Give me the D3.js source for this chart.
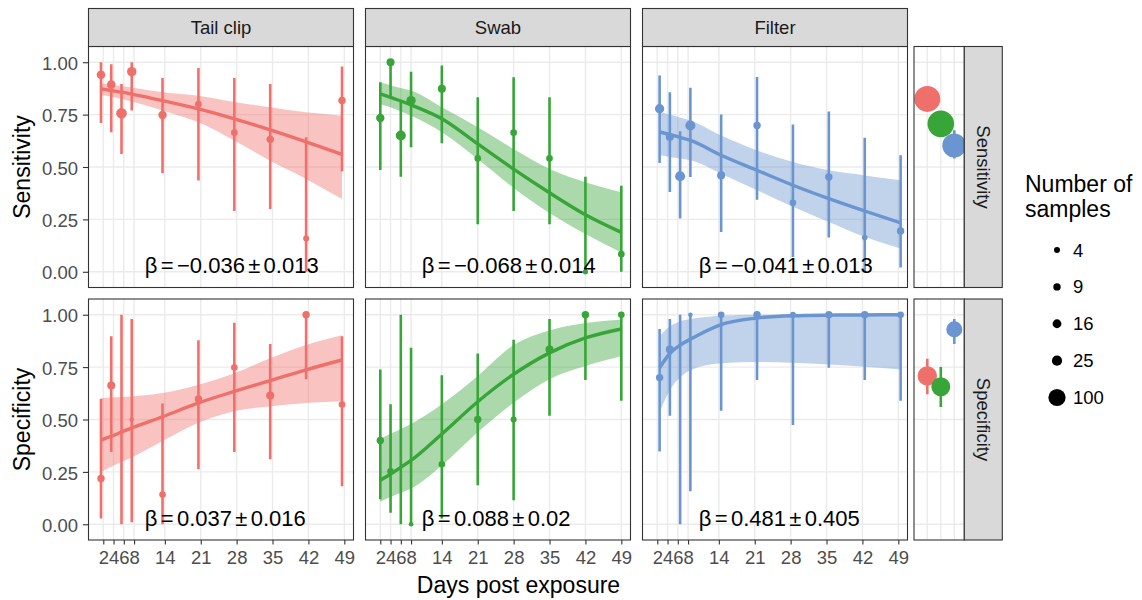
<!DOCTYPE html>
<html><head><meta charset="utf-8">
<script src="https://cdn.jsdelivr.net/npm/d3@7"></script>
<style>
body{margin:0;background:#fff}
svg{display:block}
text{font-family:"Liberation Sans",Arial,Helvetica,sans-serif}
</style>
</head><body><svg id="c" width="1142" height="600"></svg>
<script>
// ---------------- DATA ----------------
const methods = ["Tail clip", "Swab", "Filter"];
const measures = ["Sensitivity", "Specificity"];
const colors = ["#EF706A", "#37A537", "#6A95D0"];
const days = [2, 4, 6, 8, 14, 21, 28, 35, 42, 49];
const xTicks = [2, 4, 6, 8, 14, 21, 28, 35, 42, 49];
const yTicks = [0, 0.25, 0.5, 0.75, 1];
const sizeBreaks = [4, 9, 16, 25, 100];
const betaLabels = [
  "β = −0.036 ± 0.013", "β = −0.068 ± 0.014", "β = −0.041 ± 0.013",
  "β = 0.037 ± 0.016", "β = 0.088 ± 0.02", "β = 0.481 ± 0.405"
];

// Sensitivity — observed proportions, 95% interval, number of samples
const tailSens   = [0.94, 0.893, 0.756, 0.955, 0.748, 0.80, 0.664, 0.632, 0.159, 0.817];
const tailSensLo = [0.71, 0.666, 0.562, 0.77, 0.47, 0.435, 0.29, 0.30, 0.0, 0.478];
const tailSensHi = [1.0, 0.99, 0.896, 1.0, 0.925, 0.973, 0.925, 0.896, 0.642, 0.98];
const tailSensN  = [15, 15, 28, 20, 14, 6, 6, 9, 4, 9];

const swabSens   = [0.734, 1.0, 0.65, 0.817, 0.873, 0.541, 0.664, 0.541, 0.0, 0.084];
const swabSensLo = [0.486, 0.83, 0.454, 0.594, 0.613, 0.227, 0.29, 0.227, 0.0, 0.0];
const swabSensHi = [0.904, 1.0, 0.817, 0.955, 0.984, 0.833, 0.928, 0.833, 0.454, 0.41];
const swabSensN  = [14, 12, 24, 19, 12, 6, 6, 6, 2, 6];

const filterSens   = [0.778, 0.643, 0.456, 0.698, 0.46, 0.698, 0.329, 0.452, 0.163, 0.195];
const filterSensLo = [0.519, 0.381, 0.254, 0.452, 0.19, 0.344, 0.07, 0.163, 0.0, 0.02];
const filterSensHi = [0.937, 0.857, 0.67, 0.878, 0.75, 0.93, 0.703, 0.765, 0.64, 0.556];
const filterSensN  = [19, 12, 24, 24, 12, 9, 6, 9, 3, 9];

// Specificity
const tailSpec   = [0.219, 0.662, null, 0.5, 0.142, 0.598, 0.748, 0.614, 1.0, 0.571];
const tailSpecLo = [0.027, 0.345, 0.0, 0.01, 0.0, 0.263, 0.345, 0.31, 0.692, 0.181];
const tailSpecHi = [0.598, 0.897, 1.0, 0.98, 0.576, 0.878, 0.962, 0.86, 1.0, 0.897];
const tailSpecN  = [9, 12, 0, 1, 6, 9, 6, 12, 9, 6];

const swabSpec   = [0.40, 0.253, null, 0.0, 0.286, 0.5, 0.5, 0.834, 1.0, 1.0];
const swabSpecLo = [0.12, 0.055, 0.0, 0.0, 0.028, 0.186, 0.115, 0.518, 0.689, 0.589];
const swabSpecHi = [0.739, 0.573, 1.0, 0.842, 0.711, 0.815, 0.88, 0.98, 1.0, 1.0];
const swabSpecN  = [9, 6, 0, 1, 6, 9, 4, 12, 9, 6];

const filterSpec   = [0.70, 0.834, null, 1.0, 1.0, 1.0, 1.0, 1.0, 1.0, 1.0];
const filterSpecLo = [0.347, 0.518, 0.0, 0.158, 0.542, 0.689, 0.474, 0.747, 0.689, 0.589];
const filterSpecHi = [0.932, 0.98, 1.0, 1.0, 1.0, 1.0, 1.0, 1.0, 1.0, 1.0];
const filterSpecN  = [9, 12, 0, 1, 6, 9, 4, 9, 9, 6];

// fitted curves and their confidence bands, read at the same days
const tailSensFit   = [0.873, 0.865, 0.857, 0.848, 0.817, 0.777, 0.73, 0.677, 0.62, 0.56];
const tailSensFitLo = [0.845, 0.835, 0.825, 0.812, 0.77, 0.713, 0.626, 0.53, 0.443, 0.347];
const tailSensFitHi = [0.90, 0.893, 0.886, 0.879, 0.857, 0.84, 0.81, 0.785, 0.761, 0.745];

const swabSensFit   = [0.849, 0.832, 0.815, 0.796, 0.73, 0.61, 0.49, 0.377, 0.272, 0.188];
const swabSensFitLo = [0.80, 0.785, 0.765, 0.745, 0.666, 0.538, 0.40, 0.28, 0.18, 0.092];
const swabSensFitHi = [0.904, 0.89, 0.877, 0.865, 0.785, 0.69, 0.586, 0.49, 0.427, 0.379];

const filterSensFit   = [0.667, 0.655, 0.641, 0.627, 0.556, 0.484, 0.413, 0.349, 0.29, 0.233];
const filterSensFitLo = [0.556, 0.548, 0.54, 0.532, 0.468, 0.389, 0.31, 0.238, 0.167, 0.111];
const filterSensFitHi = [0.762, 0.75, 0.736, 0.722, 0.65, 0.579, 0.524, 0.484, 0.46, 0.437];

const tailSpecFit   = [0.402, 0.42, 0.44, 0.46, 0.513, 0.579, 0.634, 0.686, 0.737, 0.784];
const tailSpecFitLo = [0.25, 0.275, 0.297, 0.319, 0.397, 0.484, 0.539, 0.563, 0.579, 0.587];
const tailSpecFitHi = [0.603, 0.605, 0.607, 0.61, 0.626, 0.666, 0.721, 0.792, 0.855, 0.902];

const swabSpecFit   = [0.21, 0.24, 0.272, 0.305, 0.431, 0.585, 0.716, 0.818, 0.889, 0.932];
const swabSpecFitLo = [0.107, 0.13, 0.15, 0.171, 0.281, 0.439, 0.58, 0.692, 0.755, 0.802];
const swabSpecFitHi = [0.408, 0.432, 0.455, 0.479, 0.573, 0.708, 0.855, 0.925, 0.96, 0.976];

const filterSpecFit   = [0.747, 0.815, 0.855, 0.883, 0.953, 0.984, 0.995, 0.998, 0.999, 1.0];
const filterSpecFitLo = [0.534, 0.64, 0.70, 0.735, 0.768, 0.774, 0.771, 0.763, 0.752, 0.739];
const filterSpecFitHi = [0.897, 0.945, 0.968, 0.979, 0.995, 1.0, 1.0, 1.0, 1.0, 1.0];

// pooled estimates (right-hand panels), order = methods
const pooledSens   = [0.825, 0.706, 0.603];
const pooledSensLo = [0.79, 0.67, 0.54];
const pooledSensHi = [0.86, 0.745, 0.675];
const pooledSensN  = [265, 280, 220];
const pooledSpec   = [0.708, 0.656, 0.93];
const pooledSpecLo = [0.62, 0.56, 0.86];
const pooledSpecHi = [0.79, 0.75, 0.98];
const pooledSpecN  = [134, 127, 84];

// ---------------- LAYOUT ----------------
const panelX = [88.5, 365.5, 642.5], panelW = 265;
const rowY = [46.5, 299], panelH = 241;
const sumX = 914, sumW = 50.3, stripW = 38;
const stripTop = 8.5, stripH = 38;
const dodge = [-0.45, 0, 0.45];
const TICK = 18.5, TITLE = 23;

const svg = d3.select("#c");
const x = d3.scaleLinear().domain([-0.886, 50.79]).range([0, panelW]);
const y = d3.scaleLinear().domain([-0.075, 1.075]).range([panelH, 0]);
const xs = d3.scaleLinear().domain([0.015, 3.74]).range([0, sumW]);
const r = d3.scaleSqrt().domain([0, 100]).range([1.6, 8.6]);

const panels = [
  [tailSens, tailSensLo, tailSensHi, tailSensN, tailSensFit, tailSensFitLo, tailSensFitHi],
  [swabSens, swabSensLo, swabSensHi, swabSensN, swabSensFit, swabSensFitLo, swabSensFitHi],
  [filterSens, filterSensLo, filterSensHi, filterSensN, filterSensFit, filterSensFitLo, filterSensFitHi],
  [tailSpec, tailSpecLo, tailSpecHi, tailSpecN, tailSpecFit, tailSpecFitLo, tailSpecFitHi],
  [swabSpec, swabSpecLo, swabSpecHi, swabSpecN, swabSpecFit, swabSpecFitLo, swabSpecFitHi],
  [filterSpec, filterSpecLo, filterSpecHi, filterSpecN, filterSpecFit, filterSpecFitLo, filterSpecFitHi]
];

function stext(g, str, tx, ty, opts) {
  const t = g.append("text")
    .attr("transform", `translate(${tx},${ty}) rotate(${opts.rot || 0})`)
    .attr("font-size", opts.size)
    .attr("fill", opts.fill || "#000")
    .attr("text-anchor", opts.anchor || "start")
    .text(str);
  if (opts.ws != null) t.attr("word-spacing", opts.ws);
  return t;
}

const defs = svg.append("defs");

function panelFrame(g, w, id) {
  g.append("rect").attr("width", w).attr("height", panelH).attr("fill", "#fff");
  defs.append("clipPath").attr("id", id).append("rect").attr("width", w).attr("height", panelH);
}

// main panels
panels.forEach((p, i) => {
  const col = i % 3, row = Math.floor(i / 3);
  const [val, lo, hi, n, fit, fitLo, fitHi] = p;
  const g = svg.append("g").attr("transform", `translate(${panelX[col]},${rowY[row]})`);
  const id = "clip" + i;
  panelFrame(g, panelW, id);
  const grid = g.append("g").attr("stroke", "#EBEBEB").attr("stroke-width", 1.4);
  grid.selectAll(".h").data(yTicks).join("line").attr("x1", 0).attr("x2", panelW)
    .attr("y1", d => y(d)).attr("y2", d => y(d));
  grid.selectAll(".v").data(xTicks).join("line").attr("y1", 0).attr("y2", panelH)
    .attr("x1", d => x(d)).attr("x2", d => x(d));

  const c = g.append("g").attr("clip-path", `url(#${id})`);
  const col0 = colors[col];
  const dx = dodge[col];
  const rows = days.map((d, k) => ({ d: d + dx, v: val[k], lo: lo[k], hi: hi[k], n: n[k], f: fit[k], fl: fitLo[k], fh: fitHi[k] }));

  c.append("path").datum(rows)
    .attr("d", d3.area().x(d => x(d.d)).y0(d => y(d.fl)).y1(d => y(d.fh)).curve(d3.curveMonotoneX))
    .attr("fill", col0).attr("fill-opacity", 0.42);
  c.selectAll(".eb").data(rows).join("line")
    .attr("x1", d => x(d.d)).attr("x2", d => x(d.d))
    .attr("y1", d => y(d.lo)).attr("y2", d => y(d.hi))
    .attr("stroke", col0).attr("stroke-width", 2.6);
  c.selectAll(".pt").data(rows.filter(d => d.v != null)).join("circle")
    .attr("cx", d => x(d.d)).attr("cy", d => y(d.v)).attr("r", d => r(d.n))
    .attr("fill", col0);
  c.append("path").datum(rows)
    .attr("d", d3.line().x(d => x(d.d)).y(d => y(d.f)).curve(d3.curveMonotoneX))
    .attr("fill", "none").attr("stroke", col0).attr("stroke-width", 3.4);

  stext(g, betaLabels[i], x(10.1), y(0) + 1.5, { size: 22, anchor: "start", ws: -2.8 });

  g.append("rect").attr("width", panelW).attr("height", panelH)
    .attr("fill", "none").attr("stroke", "#333").attr("stroke-width", 1.1);
});

// pooled panels
measures.forEach((m, row) => {
  const g = svg.append("g").attr("transform", `translate(${sumX},${rowY[row]})`);
  const id = "sclip" + row;
  panelFrame(g, sumW, id);
  const grid = g.append("g").attr("stroke", "#EBEBEB").attr("stroke-width", 1.4);
  grid.selectAll(".h").data(yTicks).join("line").attr("x1", 0).attr("x2", sumW)
    .attr("y1", d => y(d)).attr("y2", d => y(d));
  grid.selectAll(".v").data([1, 2, 3]).join("line").attr("y1", 0).attr("y2", panelH)
    .attr("x1", d => xs(d)).attr("x2", d => xs(d));
  const v = row === 0 ? pooledSens : pooledSpec;
  const lo = row === 0 ? pooledSensLo : pooledSpecLo;
  const hi = row === 0 ? pooledSensHi : pooledSpecHi;
  const n = row === 0 ? pooledSensN : pooledSpecN;
  const rows = methods.map((mm, k) => ({ k: k + 1, v: v[k], lo: lo[k], hi: hi[k], n: n[k], c: colors[k] }));
  const c = g.append("g").attr("clip-path", `url(#${id})`);
  c.selectAll(".eb").data(rows).join("line")
    .attr("x1", d => xs(d.k)).attr("x2", d => xs(d.k))
    .attr("y1", d => y(d.lo)).attr("y2", d => y(d.hi))
    .attr("stroke", d => d.c).attr("stroke-width", 2.6);
  c.selectAll(".pt").data(rows).join("circle")
    .attr("cx", d => xs(d.k)).attr("cy", d => y(d.v)).attr("r", d => r(d.n))
    .attr("fill", d => d.c);
  g.append("rect").attr("width", sumW).attr("height", panelH)
    .attr("fill", "none").attr("stroke", "#333").attr("stroke-width", 1.1);
  // right strip
  const s = svg.append("g").attr("transform", `translate(${sumX + sumW},${rowY[row]})`);
  s.append("rect").attr("width", stripW).attr("height", panelH)
    .attr("fill", "#D9D9D9").attr("stroke", "#333").attr("stroke-width", 1.1);
  stext(s, m, stripW / 2 - 6.6, panelH / 2, { size: TICK, anchor: "middle", rot: 90, fill: "#1A1A1A" });
});

// top strips
methods.forEach((m, col) => {
  const s = svg.append("g").attr("transform", `translate(${panelX[col]},${stripTop})`);
  s.append("rect").attr("width", panelW).attr("height", stripH)
    .attr("fill", "#D9D9D9").attr("stroke", "#333").attr("stroke-width", 1.1);
  stext(s, m, panelW / 2, stripH / 2 + 6.6, { size: TICK, anchor: "middle", fill: "#1A1A1A" });
});

// axes
function styleAxis(ax, tf) {
  ax.attr("font-size", null).attr("font-family", null);
  ax.select(".domain").remove();
  ax.selectAll(".tick line").attr("stroke", "#333").attr("stroke-width", 1.1);
  ax.selectAll(".tick text").attr("x", null).attr("y", null).attr("dy", null)
    .attr("font-size", TICK).attr("fill", "#4D4D4D").attr("transform", tf);
}
rowY.forEach(ry => {
  const ax = svg.append("g").attr("transform", `translate(${panelX[0]},${ry})`)
    .call(d3.axisLeft(y).tickValues(yTicks).tickSize(5.6).tickFormat(d3.format(".2f")));
  styleAxis(ax, `translate(-10.5,7.2)`);
});
panelX.forEach(px => {
  const ax = svg.append("g").attr("transform", `translate(${px},${rowY[1] + panelH})`)
    .call(d3.axisBottom(x).tickValues(xTicks).tickSize(4.6).tickFormat(d3.format("d")));
  styleAxis(ax, `translate(0,23.5)`);
});

// axis titles
stext(svg, "Days post exposure", 518.5, 593, { size: TITLE, anchor: "middle" });
measures.forEach((m, row) => {
  stext(svg, m, 30, rowY[row] + panelH / 2, { size: TITLE, anchor: "middle", rot: -90 });
});

// legend
const lg = svg.append("g");
stext(lg, "Number of", 1025, 192, { size: TITLE });
stext(lg, "samples", 1025, 217, { size: TITLE });
const ly = d3.scalePoint().domain(sizeBreaks).range([250, 397.5]);
sizeBreaks.forEach(b => {
  lg.append("circle").attr("cx", 1057).attr("cy", ly(b)).attr("r", r(b)).attr("fill", "#000");
  stext(lg, String(b), 1073, ly(b) + 6.6, { size: TICK });
});
</script></body></html>
